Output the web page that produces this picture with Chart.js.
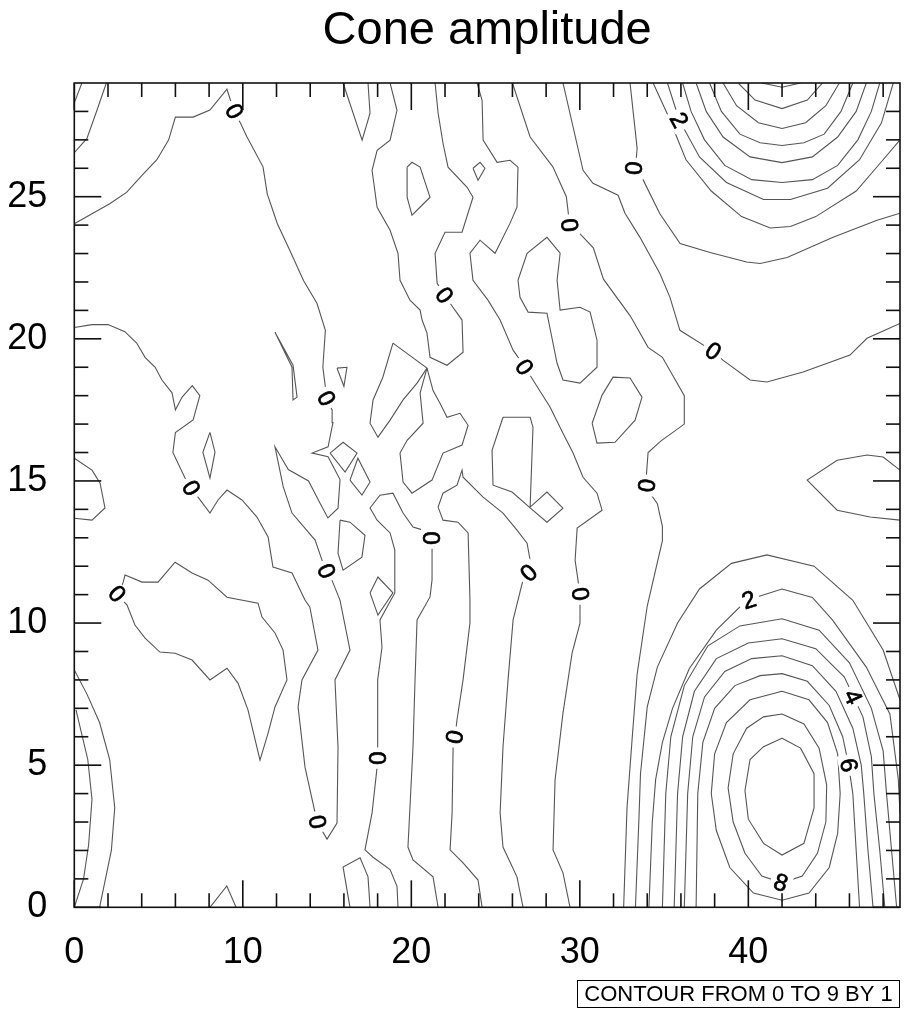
<!DOCTYPE html>
<html>
<head>
<meta charset="utf-8">
<title>Cone amplitude</title>
<script src="https://cdn.jsdelivr.net/npm/chart.js@4.4.0/dist/chart.umd.min.js"></script>
<style>
  html, body { margin: 0; padding: 0; background: #fff; }
  canvas { display: block; }
</style>
</head>
<body>
<canvas id="coneChart" width="909" height="1016"></canvas>
<script>
// axis ticks
const xMajorTicks = [0, 10, 20, 30, 40];
const xMinorTicks = [2, 4, 6, 8, 12, 14, 16, 18, 22, 24, 26, 28, 32, 34, 36, 38, 42, 44, 46, 48];
const yMajorTicks = [0, 5, 10, 15, 20, 25];
const yMinorTicks = [1, 2, 3, 4, 6, 7, 8, 9, 11, 12, 13, 14, 16, 17, 18, 19, 21, 22, 23, 24, 26, 27, 28];

// zero contours, [x, y] in grid units
const z0Big = [[0,20.4],[1.05,20.5],[2.0,20.5],[3.0,20.25],[3.7,19.85],[4.2,19.35],[4.8,19.0],[5.2,18.55],[5.8,18.1],[6.0,17.5],[6.4,17.95],[7.0,18.35],[7.45,18.0],[7.05,17.15],[6.0,16.7],[5.85,16.0],[6.57,15.1],[6.92,14.74],[7.34,14.43],[8.05,13.87],[8.53,14.33],[9.06,14.68],[9.95,14.33],[10.84,13.73],[11.5,13.03],[11.79,11.97],[12.92,11.76],[13.69,10.81],[13.98,10.56],[14.46,9.05],[13.51,8.0],[13.28,7.05],[13.69,4.93],[14.29,3.32],[14.4,3.0],[15.0,2.4],[15.59,2.96],[15.65,5.64],[15.47,8.0],[16.36,9.05],[15.77,10.8],[15.29,11.51],[14.99,11.79],[14.76,12.11],[14.29,12.92],[12.92,13.87],[12.4,14.79],[11.91,16.2],[12.7,15.4],[13.9,15.0],[14.6,14.2],[15.05,13.7],[15.65,14.04],[15.77,15.05],[15.06,15.85],[14.11,15.98],[15.06,16.2],[15.35,17.05],[15.3,17.5],[14.94,17.9],[14.9,18.3],[14.75,19.0],[14.9,20.3],[14.4,21.25],[13.6,22.05],[12.8,23.1],[12.05,24.05],[11.45,25.1],[11.2,26.05],[10.25,27.1],[9.85,27.6],[9.48,28.0],[9.06,28.78],[8.05,28.05],[7.05,27.8],[6.0,27.8],[5.6,27.0],[4.9,26.3],[4.1,25.8],[3.1,25.15],[2.1,24.75],[0,24.05]];
const zRight = [[32.6,0],[32.8,3.5],[33.1,5.9],[33.4,8.2],[34.0,10.6],[34.9,12.9],[34.9,13.4],[34.6,14.2],[33.9,14.8],[34.05,16.0],[34.8,16.4],[36.2,17.0],[36.2,18.0],[34.9,19.35],[34.05,19.7],[33.0,20.8],[31.4,22.1],[30.8,23.2],[30.0,23.7],[29.4,24.0],[29.2,25.0],[28.4,26.05],[27.05,27.1],[26.0,29]];
const zMid = [[29.0,29],[30.19,25.93],[30.78,25.47],[32.27,25.05],[32.68,24.42],[33.57,23.57],[34.75,22.3],[35.35,21.46],[35.94,20.3],[37.55,19.7],[37.9,19.56],[38.49,19.25],[40.1,18.55],[41.1,18.48],[43.25,18.83],[46.03,19.43],[47.04,20.02],[49,20.54]];
const zTop0 = [[32.98,29],[33.4,26.7],[33.3,26.0],[33.75,25.6],[34.75,24.4],[35.95,23.35],[37.73,23.04],[39.9,22.7],[40.7,22.65],[42.3,22.86],[45.03,23.57],[47.64,24.17],[49,24.42]];
const zU = [[18.74,29],[19.15,28.04],[18.74,26.99],[17.97,26.63],[17.67,25.93],[17.97,24.63],[18.74,23.82],[19.21,23.01],[19.33,22.06],[19.92,21.36],[20.52,21.01],[20.64,20.66],[20.93,20.2],[21.11,19.35],[22.12,19.07],[23.07,19.53],[23.01,20.66],[22.3,21.25],[21.94,21.53],[21.53,21.96],[21.41,23.01],[22.0,23.75],[23.01,23.75],[23.66,24.98],[23.31,25.33],[22.18,26.04],[21.88,26.88],[21.59,27.94],[21.41,29]];
const zLong = [[23.9,29],[24.2,28.39],[24.26,26.99],[25.09,26.21],[25.86,26.28],[26.33,26.04],[26.27,24.63],[25.86,24.07],[24.97,23.01],[24.08,23.47],[23.48,23.01],[23.66,22.06],[24.55,21.36],[25.27,20.66],[26.04,19.6],[26.75,19.0],[27.22,18.55],[28.23,17.6],[29.0,16.68],[29.6,15.98],[30.19,15.13],[31.02,14.57],[31.32,13.97],[29.84,13.34],[29.72,12.21],[30.01,11.02],[30.01,10.0],[29.54,8.94],[29.0,6.83],[28.53,4.48],[28.41,2.02],[29.0,1.21],[29.42,0]];
const zInvU = [[19.21,0],[19.15,0.74],[18.74,1.33],[17.73,1.76],[17.25,2.02],[17.67,3.32],[17.97,4.93],[18.02,5.24],[18.02,6.83],[17.97,8.0],[18.26,9.15],[18.14,10.11],[19.02,11.06],[19.02,12.57],[18.74,13.17],[17.97,13.62],[17.55,14.05],[18.14,14.5],[18.91,14.57],[19.51,13.87],[20.1,13.38],[20.7,13.27],[21.23,13.02],[21.23,12.64],[21.23,11.52],[21.11,10.92],[20.34,10.11],[20.22,8.0],[20.1,5.64],[19.8,2.12],[20.1,1.67],[21.29,1.07],[21.59,0]];
const zInvV = [[24.2,0],[23.96,0.96],[23.07,1.56],[22.3,2.02],[22.42,3.32],[22.48,5.64],[22.59,5.99],[22.71,6.59],[23.07,8.0],[23.48,10.0],[23.48,10.81],[23.37,13.17],[22.77,13.55],[21.88,13.62],[21.59,14.08],[21.88,14.57],[22.71,14.85],[23.01,15.38],[23.07,15.13],[24.26,14.43],[25.44,13.87],[26.27,13.27],[26.87,12.81],[27.05,12.21],[27.05,11.76],[26.63,11.52],[26.04,10.11],[25.74,8.0],[25.44,5.64],[25.27,3.32],[25.44,2.12],[26.27,1.07],[26.63,0]];
const zSmallV = [[16.36,0],[15.95,1.42],[16.96,1.74],[17.43,1.07],[17.55,0]];
const loopLeft = [[2.89,11.41],[3.01,11.69],[4.02,11.44],[4.97,11.44],[5.98,12.14],[6.99,11.76],[7.94,11.51],[9.06,10.91],[10.9,10.7],[11.14,10.21],[11.91,9.65],[12.39,9.05],[12.62,8.0],[11.91,7.05],[11.5,6.13],[11.02,5.18],[10.31,6.94],[9.72,7.88],[9.06,8.41],[8.05,8.0],[6.99,8.7],[5.98,8.94],[5.08,8.98],[4.2,9.47],[3.6,9.93],[3.13,10.63],[2.53,11.02],[2.89,11.41]];
const edgeLeft = [[0,15.8],[1.05,15.38],[1.53,14.92],[1.82,14.05],[1.05,13.62],[0,13.69]];
const rightLobe = [[49,15.38],[48.0,15.84],[47.05,15.91],[45.27,15.73],[43.49,15.03],[45.27,13.97],[47.23,13.73],[49,13.62]];
const topLeftA = [[0.45,29],[0,28.3]];
const topLeftB = [[1.9,29],[1.35,28.05],[0.75,27.05],[0,26.55]];
const topV = [[15.95,29],[17.08,26.99],[17.55,27.94],[17.43,29]];
const bottomTri = [[8.05,0],[9.05,0.75],[9.6,0]];

// small closed zero contours
const blob2 = [[19.75,26.04],[20.04,26.21],[20.52,26.04],[21.11,24.98],[20.04,24.35],[19.75,24.98],[19.75,26.04]];
const blob3 = [[23.66,26.0],[24.08,26.21],[24.37,26.0],[23.96,25.58],[23.66,26.0]];
const blob6 = [[26.33,22.06],[26.87,23.01],[28.05,23.57],[28.83,23.01],[28.65,22.06],[28.83,21.01],[30.01,21.11],[30.61,20.94],[31.02,19.95],[31.02,19.0],[30.01,18.44],[29.0,18.55],[28.65,19.14],[28.05,20.9],[26.93,20.94],[26.45,21.46],[26.33,22.06]];
const blob7 = [[30.73,17.03],[31.32,18.02],[31.97,18.65],[32.98,18.62],[33.69,17.95],[33.28,17.14],[32.09,16.36],[31.02,16.33],[30.73,17.03]];
const blob8 = [[25.44,17.24],[27.05,17.24],[27.22,16.89],[27.05,14.08],[28.05,14.61],[29.0,14.04],[28.05,13.55],[27.05,14.05],[25.98,14.61],[24.85,14.85],[24.79,16.08],[25.44,17.24]];
const blob11 = [[11.91,20.23],[12.98,19.07],[13.22,17.95],[12.98,17.85],[12.92,19.0],[11.91,20.23]];
const blob12 = [[15.59,18.97],[16.18,19.0],[16.0,18.33],[15.59,18.97]];
const blob13 = [[18.91,19.85],[20.93,18.97],[20.34,18.44],[19.51,17.85],[18.74,17.14],[18.02,16.54],[17.55,17.03],[17.73,17.85],[18.31,18.65],[18.91,19.85]];
const blob14 = [[20.93,18.97],[20.52,18.09],[20.7,17.03],[19.75,16.43],[19.33,15.98],[19.51,14.96],[20.04,14.57],[21.23,15.03],[21.88,15.98],[23.01,16.26],[23.37,16.96],[22.89,17.38],[22.12,17.24],[21.7,17.73],[21.29,18.18],[20.93,18.97]];
const blob15a = [[15.18,15.98],[15.95,16.36],[16.78,15.98],[16.07,15.31],[15.18,15.98]];
const blob15b = [[16.36,15.03],[16.83,15.8],[17.55,14.96],[17.07,14.5],[16.36,15.03]];
const blob16 = [[15.77,13.62],[16.36,13.55],[17.25,13.09],[17.07,12.32],[15.95,11.86],[15.65,12.46],[15.77,13.62]];
const blobDiamond = [[17.55,11.06],[18.02,11.62],[18.91,11.06],[18.02,10.28],[17.55,11.06]];
const blob22 = [[8.05,16.71],[8.35,16.01],[8.05,15.1],[7.63,16.01],[8.05,16.71]];

// bottom-right peak, levels 1..9
const br1 = [[33.3,0],[33.5,3],[33.6,4.7],[34.0,7.05],[34.6,8.45],[35.8,10.0],[37.1,11.2],[39.0,12.1],[41.1,12.4],[43.9,12.0],[46.2,10.8],[48.0,9.05],[49,7.3]];
const br2 = [[34.1,0],[34.3,3],[34.5,4.5],[34.9,5.8],[35.5,7.0],[36.5,8.4],[38.1,9.75],[39.9,10.8],[42.0,11.2],[43.8,10.9],[45.0,10.1],[47.0,8.45],[48.4,6.8],[48.9,4.5],[49,3.3]];
const br3 = [[34.9,0],[35.1,4],[35.4,6],[36.2,7.8],[37.6,9.2],[39.5,9.9],[42.0,10.15],[44.2,9.75],[46.0,8.6],[47.3,7.0],[48.0,5.5],[48.2,4],[48.5,2],[48.8,0]];
const br4 = [[35.6,0],[35.8,4],[36.1,6],[36.8,7.6],[38.1,8.75],[40.0,9.3],[42.0,9.45],[44.0,9.1],[45.7,8.1],[46.8,6.7],[47.3,5.3],[47.45,4],[47.8,2],[48.1,0]];
const br5 = [[36.2,0],[36.4,4],[36.7,6],[37.4,7.4],[38.6,8.3],[40.2,8.75],[42.0,8.85],[43.8,8.5],[45.2,7.6],[46.2,6.3],[46.7,5],[46.85,4],[47.1,2],[47.4,0]];
const br6 = [[36.9,0],[37.0,4],[37.3,5.8],[38.0,7.0],[39.2,7.8],[40.7,8.15],[42.0,8.22],[43.5,7.95],[44.8,7.1],[45.6,6.0],[45.95,5.0],[46.2,4],[46.4,2],[46.6,0]];
const br7 = [[42.0,7.6],[43.6,7.3],[44.7,6.5],[45.3,5.4],[45.45,4],[45.3,2.6],[44.8,1.4],[43.6,0.5],[42.0,0.25],[40.3,0.5],[38.9,1.4],[38.1,2.7],[37.8,4],[38.0,5.4],[38.7,6.5],[40.1,7.3],[42.0,7.6]];
const br8 = [[42.0,6.8],[43.3,6.45],[44.2,5.6],[44.65,4.3],[44.6,3.0],[44.1,1.9],[43.2,1.1],[42.0,0.86],[40.8,1.1],[39.8,1.9],[39.1,3.0],[38.8,4.2],[39.1,5.4],[39.9,6.3],[40.9,6.7],[42.0,6.8]];
const br9 = [[42.0,5.95],[43.1,5.6],[43.9,4.7],[43.9,3.5],[43.3,2.25],[42.0,1.84],[40.9,2.25],[40.0,3.1],[39.8,4.1],[40.1,5.2],[40.9,5.65],[42.0,5.95]];

// top-right peak, levels 1..8
const tr1 = [[34.35,29],[35.2,27.9],[36.3,26.3],[37.8,25.2],[39.6,24.3],[41.3,23.9],[42.5,23.95],[44.0,24.3],[46.4,25.2],[48.0,26.3],[49,27.0]];
const tr2 = [[35.2,29],[35.9,27.7],[37.1,26.4],[38.7,25.5],[40.9,24.9],[42.5,24.9],[44.7,25.3],[46.6,26.3],[47.9,27.6],[48.6,29]];
const tr3 = [[36.1,29],[36.6,28],[37.4,27],[38.6,26.1],[40.2,25.6],[42.0,25.5],[43.8,25.6],[45.3,26.1],[46.5,27],[47.3,28],[47.8,29]];
const tr4 = [[36.9,29],[37.5,28],[38.5,27.1],[40.1,26.4],[42.0,26.2],[43.8,26.4],[45.3,27.1],[46.4,28],[47.0,29]];
const tr5 = [[37.7,29],[38.4,28],[39.5,27.2],[40.7,26.9],[42.0,26.8],[43.3,26.9],[44.5,27.2],[45.5,28],[46.2,29]];
const tr6 = [[38.5,29],[39.3,28.2],[40.6,27.6],[42.0,27.4],[43.4,27.6],[44.6,28.2],[45.4,29]];
const tr7 = [[39.4,29],[40.4,28.4],[42.0,28.1],[43.5,28.4],[44.4,29]];
const tr8 = [[40.8,29],[42.0,28.85],[43.1,29]];

// bottom-left edge arcs
const lb1 = [[0,8.35],[0.75,7.5],[1.5,6.5],[2.1,5.2],[2.4,3.5],[2.2,2.0],[1.5,0]];
const lb2 = [[0.1,6.95],[0.8,5.2],[1.05,3.8],[0.85,2.2],[0.55,1.0],[0,0]];

// line labels: x, y, text
const lineLabels = [
  [9.48,28.0,'0'],[33.22,26.0,'0'],[29.36,24.0,'0'],[21.94,21.53,'0'],[37.9,19.56,'0'],
  [26.69,19.0,'0'],[14.94,17.9,'0'],[6.92,14.74,'0'],[33.99,14.84,'0'],[21.17,12.99,'0'],
  [14.94,11.83,'0'],[26.98,11.76,'0'],[30.01,11.02,'0'],[2.53,11.02,'0'],[22.59,5.99,'0'],
  [17.96,5.25,'0'],[14.4,3.0,'0'],
  [35.88,27.69,'2'],[40.04,10.8,'2'],[46.2,7.4,'4'],[45.95,5.0,'6'],[41.93,0.86,'8']
];

const contourLines = [
  z0Big, zRight, zMid, zTop0, zU, zLong, zInvU, zInvV, zSmallV, loopLeft, edgeLeft, rightLobe,
  topLeftA, topLeftB, topV, bottomTri,
  blob2, blob3, blob6, blob7, blob8, blob11, blob12, blob13, blob14, blob15a, blob15b, blob16, blobDiamond, blob22,
  br1, br2, br3, br4, br5, br6, br7, br8, br9,
  tr1, tr2, tr3, tr4, tr5, tr6, tr7, tr8,
  lb1, lb2
];

const FONT = '"Liberation Sans", Arial, Helvetica, sans-serif';

function labelAngle(chart, px, py) {
  let best = Infinity, ang = 0;
  chart.data.datasets.forEach((ds, i) => {
    const pts = chart.getDatasetMeta(i).data;
    for (let k = 1; k < pts.length; k++) {
      const ax = pts[k - 1].x, ay = pts[k - 1].y;
      const dx = pts[k].x - ax, dy = pts[k].y - ay;
      const len2 = dx * dx + dy * dy || 1;
      let t = ((px - ax) * dx + (py - ay) * dy) / len2;
      t = Math.max(0, Math.min(1, t));
      const qx = ax + t * dx - px, qy = ay + t * dy - py;
      const d = qx * qx + qy * qy;
      if (d < best) { best = d; ang = Math.atan2(dy, dx); }
    }
  });
  if (ang > Math.PI / 2) ang -= Math.PI;
  if (ang <= -Math.PI / 2) ang += Math.PI;
  return ang;
}

const contourDecor = {
  id: 'contourDecor',
  afterDatasetsDraw(chart) {
    const { ctx, chartArea: a, scales: { x, y } } = chart;
    ctx.save();

    // contour labels with white mask
    ctx.font = '24px ' + FONT;
    ctx.textAlign = 'center';
    ctx.textBaseline = 'middle';
    ctx.lineWidth = 0.7;
    ctx.strokeStyle = '#000';
    lineLabels.forEach(([lx, ly, txt]) => {
      const px = x.getPixelForValue(lx), py = y.getPixelForValue(ly);
      const ang = labelAngle(chart, px, py);
      const w = ctx.measureText(txt).width;
      ctx.save();
      ctx.translate(px, py);
      ctx.rotate(ang);
      ctx.fillStyle = '#fff';
      ctx.fillRect(-w / 2 - 4, -10, w + 8, 20);
      ctx.fillStyle = '#000';
      ctx.fillText(txt, 0, 1);
      ctx.strokeText(txt, 0, 1);
      ctx.restore();
    });

    // frame and inward ticks on all sides
    ctx.strokeStyle = '#111';
    ctx.lineWidth = 1.6;
    ctx.strokeRect(a.left, a.top, a.right - a.left, a.bottom - a.top);
    const seg = (x1, y1, x2, y2) => { ctx.beginPath(); ctx.moveTo(x1, y1); ctx.lineTo(x2, y2); ctx.stroke(); };
    const xTicks = (vals, len) => vals.forEach(v => {
      const p = x.getPixelForValue(v);
      seg(p, a.bottom, p, a.bottom - len);
      seg(p, a.top, p, a.top + len);
    });
    const yTicks = (vals, len) => vals.forEach(v => {
      const p = y.getPixelForValue(v);
      seg(a.left, p, a.left + len, p);
      seg(a.right, p, a.right - len, p);
    });
    xTicks(xMajorTicks, 27);
    xTicks(xMinorTicks, 14);
    yTicks(yMajorTicks, 27);
    yTicks(yMinorTicks, 14);
    ctx.restore();
  },
  afterDraw(chart) {
    const ctx = chart.ctx;
    ctx.save();
    ctx.strokeStyle = '#000';
    ctx.lineWidth = 1;
    ctx.strokeRect(577.5, 980.5, 322, 27);
    ctx.fillStyle = '#000';
    ctx.font = '22px ' + FONT;
    ctx.textAlign = 'center';
    ctx.textBaseline = 'middle';
    ctx.fillText('CONTOUR FROM 0 TO 9 BY 1', 738.5, 994.5);
    ctx.restore();
  }
};

new Chart(document.getElementById('coneChart'), {
  type: 'scatter',
  data: {
    datasets: contourLines.map(pts => ({
      data: pts.map(([x, y]) => ({ x, y })),
      showLine: true,
      borderColor: '#555',
      borderWidth: 1.1,
      pointRadius: 0,
      pointHoverRadius: 0,
      tension: 0,
      fill: false
    }))
  },
  options: {
    responsive: false,
    devicePixelRatio: 1,
    animation: false,
    events: [],
    layout: { padding: { left: 0, right: 9, top: 0, bottom: 0 } },
    plugins: {
      legend: { display: false },
      tooltip: { enabled: false },
      title: {
        display: true,
        text: 'Cone amplitude',
        fullSize: false,
        color: '#000',
        font: { family: FONT, size: 47, weight: 'normal' },
        padding: { top: 3, bottom: 23.6 }
      }
    },
    scales: {
      x: {
        type: 'linear',
        min: 0,
        max: 49,
        afterBuildTicks: s => { s.ticks = xMajorTicks.map(v => ({ value: v })); },
        afterFit: s => { s.height = 108.7; },
        ticks: { color: '#000', font: { family: FONT, size: 36 }, padding: 24, maxRotation: 0, autoSkip: false },
        grid: { display: false, drawTicks: false },
        border: { display: false }
      },
      y: {
        type: 'linear',
        min: 0,
        max: 29,
        afterBuildTicks: s => { s.ticks = yMajorTicks.map(v => ({ value: v })); },
        afterFit: s => { s.width = 74.3; },
        ticks: { color: '#000', font: { family: FONT, size: 36 }, padding: 27, autoSkip: false },
        grid: { display: false, drawTicks: false },
        border: { display: false }
      }
    }
  },
  plugins: [contourDecor]
});
</script>
</body>
</html>
